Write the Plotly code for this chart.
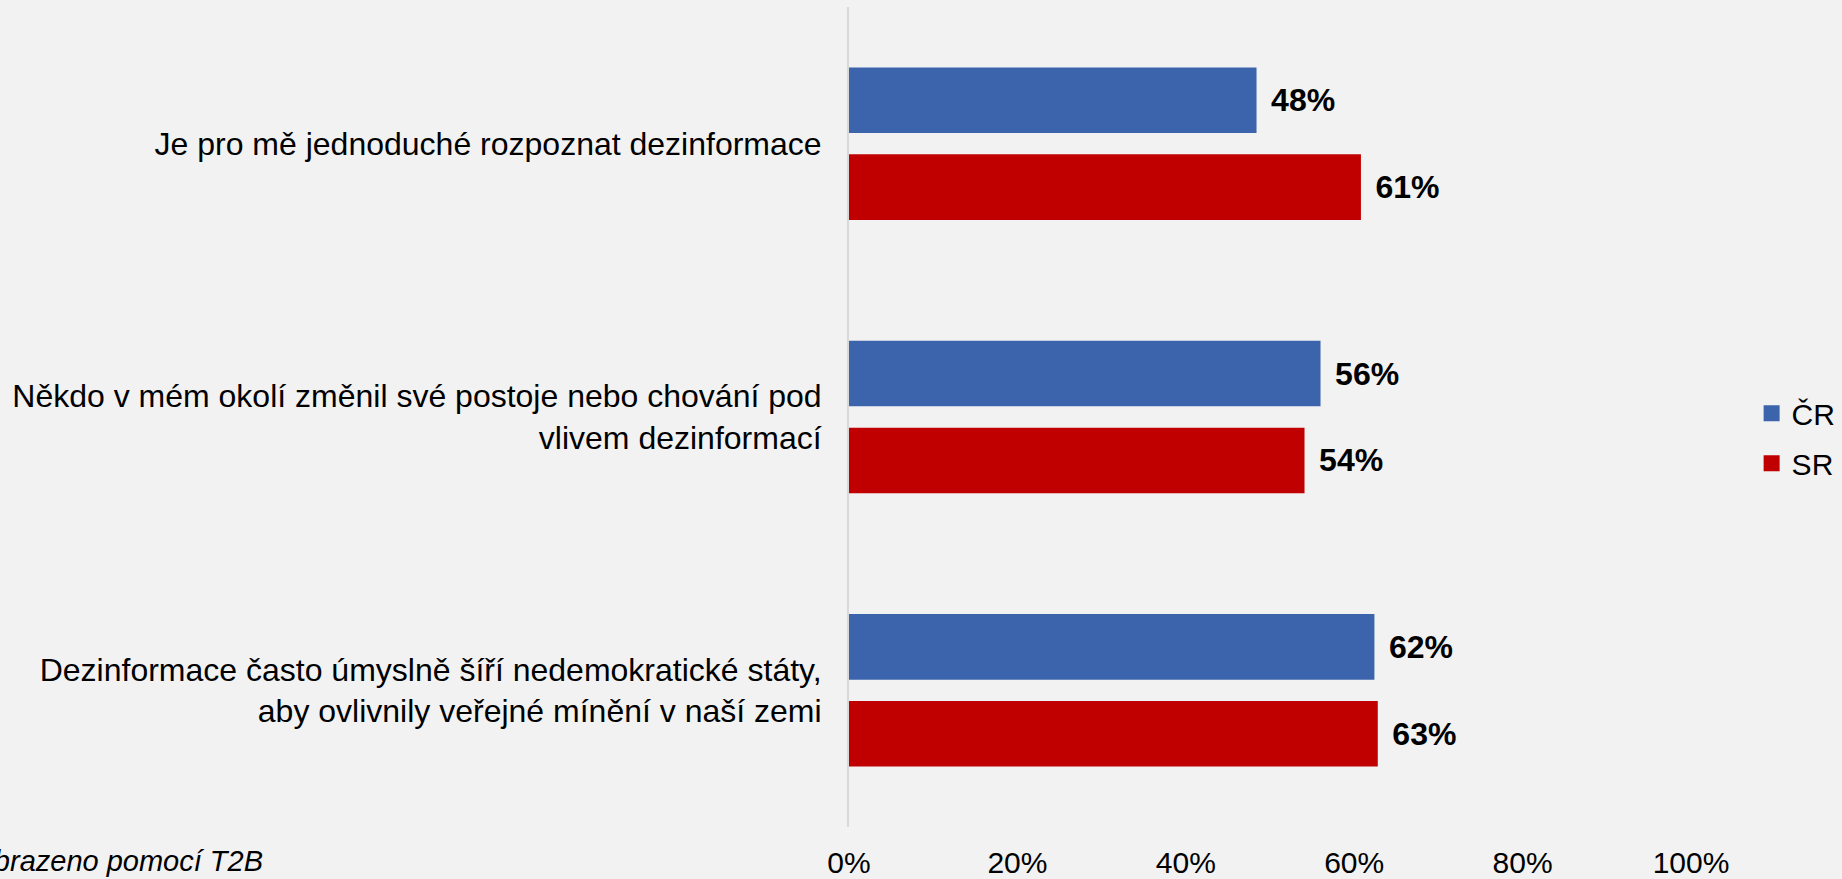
import plotly.graph_objects as go

categories = [
    "Je pro mě jednoduché rozpoznat dezinformace",
    "Někdo v mém okolí změnil své postoje nebo chování pod<br>vlivem dezinformací",
    "Dezinformace často úmyslně šíří nedemokratické státy,<br>aby ovlivnily veřejné mínění v naší zemi",
]
series_names = ["ČR", "SR"]
cr_values = [0.484, 0.560, 0.624]
sr_values = [0.608, 0.541, 0.628]
x_ticks = [0, 0.2, 0.4, 0.6, 0.8, 1.0]
x_tick_labels = ["0%", "20%", "40%", "60%", "80%", "100%"]
footnote = "Zobrazeno pomocí T2B"

colors = {"ČR": "#3c64ad", "SR": "#c00000"}
FONT = "Liberation Sans, Arial, sans-serif"

fig = go.Figure()
for name, vals in zip(series_names, [cr_values, sr_values]):
    fig.add_trace(go.Bar(
        name=name,
        y=categories,
        x=vals,
        orientation="h",
        marker=dict(color=colors[name], line=dict(width=0)),
        texttemplate="\u00a0\u200a%{x:.0%}",
        textposition="outside",
        textfont=dict(family=FONT, size=32, color="#000000", weight="bold"),
        constraintext="none",
        cliponaxis=False,
        showlegend=False,
        hoverinfo="skip",
    ))

# legend entries with larger square swatches
for name in series_names:
    fig.add_trace(go.Scatter(
        name=name,
        x=[None], y=[None],
        mode="markers",
        marker=dict(symbol="square", size=16, color=colors[name]),
        legendgroup=name,
        showlegend=True,
        hoverinfo="skip",
    ))

fig.update_layout(
    width=1842,
    height=879,
    barmode="group",
    bargap=0.364,
    bargroupgap=0.245,
    paper_bgcolor="#f2f2f2",
    plot_bgcolor="#f2f2f2",
    margin=dict(l=849, r=151, t=7, b=52, autoexpand=False),
    font=dict(family=FONT, size=30, color="#000000"),
    showlegend=True,
    legend=dict(
        x=1.072, y=0.474, xanchor="left", yanchor="middle",
        font=dict(family=FONT, size=30, color="#000000"),
        bgcolor="rgba(0,0,0,0)",
        tracegroupgap=8,
        traceorder="grouped",
        itemsizing="trace",
    ),
    xaxis=dict(
        range=[0, 1],
        tickvals=x_ticks,
        ticktext=x_tick_labels,
        showgrid=False,
        zeroline=False,
        showline=False,
        ticks="",
        ticklabelstandoff=15,
        tickfont=dict(family=FONT, size=30, color="#000000"),
        automargin=False,
        fixedrange=True,
    ),
    yaxis=dict(
        autorange="reversed",
        showgrid=False,
        zeroline=False,
        showline=True,
        linecolor="#d9d9d9",
        linewidth=2,
        ticks="",
        ticklabelstandoff=19,
        tickfont=dict(family=FONT, size=32, color="#000000"),
        automargin=False,
        fixedrange=True,
    ),
)

fig.add_annotation(
    text=footnote,
    xref="paper", yref="paper",
    x=(265 - 849) / 842, y=-0.0415,
    xanchor="right", yanchor="middle",
    showarrow=False,
    font=dict(family=FONT, size=29, color="#000000", style="italic"),
)

fig.write_html(
    "out.html",
    config={"displayModeBar": False},
    post_script="document.body.style.margin='0';document.body.style.padding='0';document.body.style.overflow='hidden';",
)
